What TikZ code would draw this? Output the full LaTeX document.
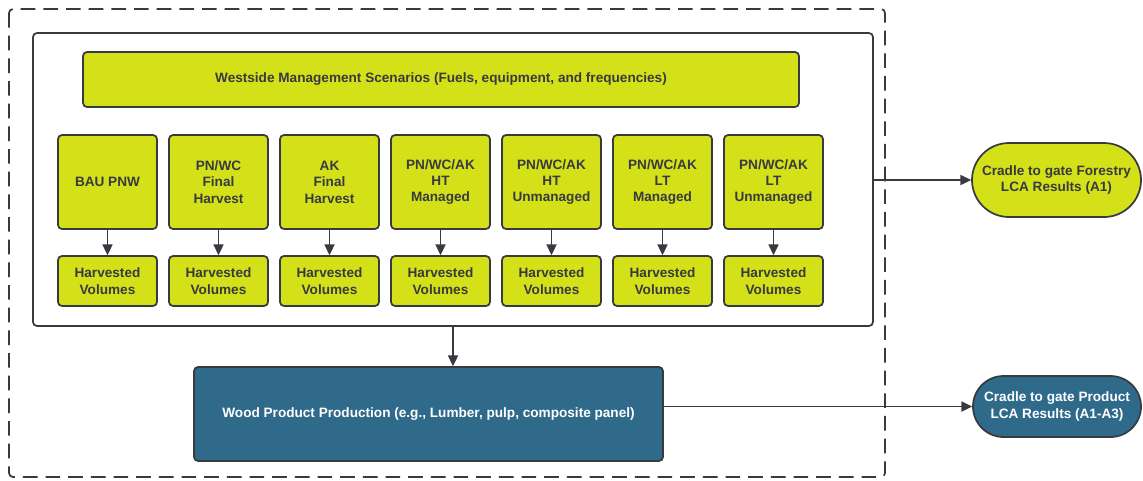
\documentclass[tikz,border=0pt]{standalone}
\usepackage{fontspec}
\setmainfont{Liberation Sans}
\usetikzlibrary{arrows.meta,shapes.misc}
\definecolor{lime}{RGB}{213,225,24}
\definecolor{steel}{RGB}{47,106,139}
\definecolor{ink}{RGB}{55,58,62}
\tikzset{
  box/.style={draw=ink, line width=1.3pt, rounded corners=3pt, inner sep=2pt, align=center, font=\bfseries\fontsize{10.2}{12.3}\selectfont},
  ybox/.style={box, fill=lime, text=ink},
  bbox/.style={box, fill=steel, text=white},
  stad/.style={box, rounded rectangle, rounded corners=0pt},
  arr/.style={draw=ink, line width=1.3pt, -{Triangle[length=8pt,width=7.5pt]}}
}
\begin{document}
\begin{tikzpicture}[x=0.75pt,y=-0.75pt]
\useasboundingbox (0,0) rectangle (1143,480);
\draw[ink, line width=1.3pt, dash pattern=on 11pt off 6pt, rounded corners=3pt] (9,9) rectangle (885,477);
\node[draw=ink, line width=1.3pt, rounded corners=3pt, minimum width=630pt, minimum height=219.75pt, inner sep=0] (inner) at (453,179.5) {};
\node[ybox, minimum width=537pt, minimum height=41.25pt] (title) at (441,79.5) {Westside Management Scenarios (Fuels, equipment, and frequencies)};
\foreach \i/\t in {0/{BAU PNW},1/{PN/WC\\Final\\Harvest},2/{AK\\Final\\Harvest},3/{PN/WC/AK\\HT\\Managed},4/{PN/WC/AK\\HT\\Unmanaged},5/{PN/WC/AK\\LT\\Managed},6/{PN/WC/AK\\LT\\Unmanaged}}{
  \node[ybox, minimum width=74.25pt, minimum height=70.5pt] (s\i) at ({107.5+111*\i},182) {\t};
  \node[ybox, minimum width=74.25pt, minimum height=37.5pt] (h\i) at ({107.5+111*\i},281) {Harvested\\Volumes};
  \draw[arr] (s\i) -- (h\i);
}
\node[bbox, minimum width=351.75pt, minimum height=70.5pt] (wood) at (428.5,414) {Wood Product Production (e.g., Lumber, pulp, composite panel)};
\node[ybox, stad, minimum width=126.75pt, minimum height=55.5pt, inner xsep=0pt] (forest) at (1056.5,180) {Cradle to gate Forestry\\LCA Results (A1)};
\node[bbox, stad, minimum width=126pt, minimum height=45.75pt, inner xsep=0pt] (prod) at (1057,406.5) {Cradle to gate Product\\LCA Results (A1-A3)};
\draw[arr] (inner.south) -- (inner.south |- wood.north);
\draw[arr] (inner.east |- forest.west) -- (forest.west);
\draw[arr] (wood.east |- prod.west) -- (prod.west);
\end{tikzpicture}
\end{document}
